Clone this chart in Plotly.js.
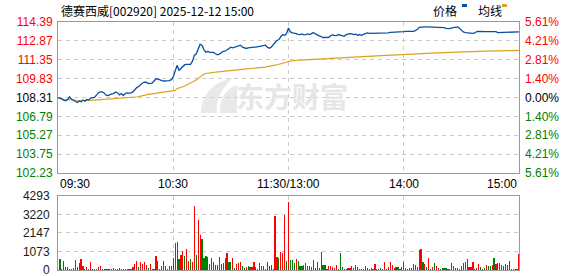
<!DOCTYPE html>
<html><head><meta charset="utf-8">
<script src="https://cdn.plot.ly/plotly-3.0.1.min.js"></script>
<style>html,body{margin:0;padding:0;background:#fff}#c{width:578px;height:276px}</style>
</head><body><div id="c"></div>
<script>
const titleText = '德赛西威[002920] 2025-12-12 15:00';
const prevClose = 108.31;
const priceTicks = [102.23, 103.75, 105.27, 106.79, 108.31, 109.83, 111.35, 112.87, 114.39];
const pctLabels = ['5.61%', '4.21%', '2.81%', '1.40%', '0.00%', '1.40%', '2.81%', '4.21%', '5.61%'];
const volTicks = [0, 1073, 2147, 3220, 4293];
const timeTickPos = [0, 60, 120, 180, 240];
const timeTickLabels = ['09:30', '10:30', '11:30/13:00', '14:00', '15:00'];
const legendNames = ['价格', '均线'];

const price = [
108.31,108.28,108.20,108.10,108.04,108.15,108.36,108.18,108.10,107.96,
107.91,108.02,107.96,108.10,108.02,108.15,108.10,108.26,108.31,108.31,
108.50,108.68,108.76,108.76,108.68,108.50,108.47,108.55,108.60,108.63,
108.76,108.68,108.52,108.63,108.47,108.63,108.68,108.66,108.68,108.76,
108.95,109.11,109.19,109.38,109.48,109.54,109.54,109.43,109.43,109.46,
109.64,109.80,109.80,109.70,109.67,109.64,109.64,109.64,109.67,109.75,
109.96,110.44,110.90,110.50,110.63,110.76,110.95,110.98,110.98,110.98,
111.24,111.70,111.83,112.23,112.60,112.50,112.15,111.96,112.02,111.94,
111.91,111.94,111.83,111.75,111.80,111.91,112.02,112.04,112.15,112.26,
112.36,112.31,112.36,112.47,112.52,112.52,112.36,112.31,112.26,112.31,
112.34,112.31,112.36,112.36,112.39,112.42,112.44,112.50,112.52,112.36,
112.28,112.36,112.60,112.74,112.90,112.98,113.22,113.38,113.30,113.48,
113.91,113.59,113.51,113.51,113.46,113.40,113.38,113.43,113.35,113.38,
113.43,113.38,113.46,113.54,113.43,113.32,113.27,113.22,113.14,113.14,
113.14,113.16,113.30,113.35,113.32,113.30,113.38,113.32,113.27,113.24,
113.38,113.43,113.46,113.43,113.38,113.40,113.32,113.38,113.30,113.40,
113.48,113.51,113.48,113.48,113.48,113.48,113.48,113.48,113.48,113.48,
113.48,113.48,113.51,113.56,113.56,113.56,113.56,113.56,113.56,113.56,
113.62,113.64,113.64,113.64,113.59,113.64,113.70,113.78,113.96,113.99,
113.99,113.99,113.99,113.99,113.99,113.94,113.96,113.99,113.99,113.99,
113.99,113.94,113.88,113.86,113.86,113.91,113.94,113.91,113.99,113.88,
113.75,113.59,113.54,113.51,113.51,113.51,113.48,113.51,113.62,113.64,
113.62,113.62,113.62,113.62,113.62,113.62,113.62,113.56,113.62,113.54,
113.54,113.54,113.54,113.54,113.54,113.54,113.54,113.54,113.54,113.59,
113.59];

const avgPrice = [
108.31,108.24,108.20,108.17,108.15,108.13,108.12,108.11,108.10,108.10,
108.09,108.08,108.08,108.07,108.07,108.07,108.07,108.08,108.09,108.10,
108.11,108.12,108.13,108.14,108.15,108.15,108.16,108.17,108.18,108.20,
108.20,108.21,108.22,108.23,108.24,108.25,108.26,108.26,108.27,108.28,
108.31,108.34,108.37,108.42,108.47,108.50,108.52,108.56,108.58,108.60,
108.62,108.63,108.66,108.68,108.70,108.72,108.74,108.76,108.78,108.80,
108.83,108.88,109.02,109.06,109.12,109.18,109.24,109.32,109.40,109.45,
109.50,109.62,109.72,109.85,109.98,110.12,110.20,110.24,110.28,110.32,
110.33,110.34,110.35,110.37,110.39,110.40,110.42,110.43,110.45,110.46,
110.48,110.50,110.52,110.53,110.55,110.57,110.58,110.60,110.61,110.62,
110.64,110.65,110.66,110.67,110.68,110.70,110.72,110.74,110.76,110.79,
110.81,110.84,110.88,110.92,110.95,110.98,111.02,111.06,111.10,111.15,
111.22,111.25,111.27,111.29,111.30,111.31,111.32,111.33,111.33,111.34,
111.35,111.35,111.36,111.37,111.38,111.39,111.40,111.41,111.42,111.43,
111.44,111.45,111.46,111.47,111.48,111.49,111.50,111.51,111.52,111.53,
111.53,111.54,111.55,111.56,111.57,111.58,111.59,111.60,111.61,111.62,
111.63,111.63,111.64,111.64,111.65,111.65,111.66,111.67,111.67,111.68,
111.70,111.70,111.71,111.72,111.72,111.73,111.74,111.74,111.75,111.76,
111.76,111.78,111.79,111.80,111.80,111.81,111.82,111.82,111.84,111.85,
111.86,111.86,111.87,111.88,111.88,111.89,111.89,111.91,111.91,111.92,
111.93,111.93,111.94,111.94,111.95,111.95,111.96,111.96,111.97,111.97,
111.98,111.99,111.99,112.00,112.00,112.01,112.01,112.02,112.02,112.03,
112.03,112.03,112.04,112.04,112.04,112.05,112.05,112.06,112.06,112.07,
112.07,112.07,112.08,112.08,112.08,112.09,112.09,112.09,112.10,112.10,
112.10];

// volume for minutes 1..240
const volume = [
638,58,522,174,174,77,58,97,580,174,
406,638,232,39,174,58,464,58,39,58,
155,213,77,58,58,58,39,58,97,39,
58,97,39,58,58,58,77,77,174,329,
522,174,464,348,464,271,116,348,58,77,
812,522,77,232,522,232,58,232,232,696,
1547,1625,638,870,1083,812,1199,522,638,464,
3713,870,2901,2031,1799,696,812,754,348,696,
464,290,271,754,348,406,696,986,464,464,
696,116,348,406,464,232,116,174,232,174,
174,464,174,58,406,232,232,58,464,232,
290,58,3133,754,696,1044,986,3191,522,3945,
580,580,406,638,522,232,232,290,406,232,
232,174,580,116,464,116,1044,290,290,58,
232,232,174,116,290,58,986,174,58,58,
116,116,232,116,290,174,58,58,58,232,
116,58,116,58,348,58,58,116,58,464,
58,174,464,290,116,174,174,58,174,464,
116,58,116,116,348,290,174,1160,1218,464,
348,174,696,58,174,406,232,116,58,116,
116,116,58,58,406,232,116,116,58,232,
406,464,638,174,174,464,58,116,348,174,
58,116,290,232,232,290,696,348,406,406,
290,232,348,290,522,58,60,80,70,928];
// 1 = up (red), -1 = down (green)
const volDir = [
-1,1,-1,-1,-1,1,-1,-1,-1,1,
-1,1,1,-1,1,-1,1,-1,1,-1,
1,1,-1,1,-1,1,1,1,1,-1,
1,-1,1,-1,1,1,1,-1,1,1,
1,-1,1,1,1,1,-1,1,-1,1,
1,-1,1,1,-1,1,-1,1,1,1,
1,1,-1,1,1,-1,1,1,-1,1,
1,-1,1,1,-1,-1,-1,1,-1,1,
1,-1,-1,1,1,1,1,1,-1,-1,
1,-1,1,1,1,-1,-1,1,-1,1,
1,1,-1,1,1,1,1,1,-1,-1,
-1,1,1,1,-1,1,1,1,-1,1,
-1,-1,-1,1,-1,-1,-1,1,1,-1,
1,1,1,1,-1,-1,-1,-1,-1,-1,
1,1,1,1,1,-1,-1,-1,-1,-1,
1,1,1,-1,-1,1,-1,-1,-1,1,
1,-1,1,1,1,-1,-1,-1,-1,1,
-1,1,1,1,1,-1,-1,-1,1,1,
-1,-1,-1,-1,1,1,1,1,1,-1,
1,-1,1,-1,1,-1,1,1,-1,-1,
-1,-1,-1,-1,1,1,-1,-1,-1,-1,
-1,-1,-1,1,1,1,-1,1,1,-1,
-1,-1,1,-1,-1,1,-1,1,-1,1,
-1,-1,1,-1,1,1,1,-1,-1,1];

// ---------- styling ----------
const RED = '#ff0000', GREEN = '#008000', BLACK = '#000000';
const BLUE = '#0b4fa3', ORANGE = '#dca21e';
const FONT = 'Arial, "Liberation Sans", "Noto Sans CJK SC", sans-serif';
const CJK = '"Noto Sans CJK SC", Arial, sans-serif';
const W = 578, H = 276, L = 58, R = 59, T = 22, B = 6;
const priceTop = 22, priceBot = 173, volTop = 196, volBot = 270;
const plotH = H - T - B;
const dPrice = [(H - B - priceBot) / plotH, 1];
const dVol = [0, (H - B - volTop) / plotH];

const minutes = price.map((_, i) => i);
const volMinutes = volume.map((_, i) => i + 1);

function colorFor(v) { return v > prevClose + 1e-9 ? RED : (v < prevClose - 1e-9 ? GREEN : BLACK); }
const leftText = priceTicks.map(v => `<span style="color:${colorFor(v)}">${v.toFixed(2)}</span>`);
const rightText = priceTicks.map((v, i) => `<span style="color:${colorFor(v)}">${pctLabels[i]}</span>`);

const traces = [
  {x: minutes, y: avgPrice, type: 'scatter', mode: 'lines', line: {color: ORANGE, width: 1.2}, xaxis: 'x', yaxis: 'y', hoverinfo: 'skip'},
  {x: minutes, y: price, type: 'scatter', mode: 'lines', line: {color: BLUE, width: 1.3}, xaxis: 'x', yaxis: 'y', hoverinfo: 'skip'},
  {x: minutes, y: price, type: 'scatter', mode: 'lines', line: {color: 'rgba(0,0,0,0)', width: 0}, xaxis: 'x', yaxis: 'y2', hoverinfo: 'skip'},
  {x: volMinutes, y: volume, type: 'bar', width: 0.62, marker: {color: volDir.map(d => d > 0 ? RED : GREEN), line: {width: 0}}, xaxis: 'x2', yaxis: 'y3', hoverinfo: 'skip'}
];

const gridStyle = {showgrid: true, gridcolor: '#cccccc', griddash: '4px,4px', gridwidth: 1};
const frame = {showline: true, mirror: true, linecolor: '#999999', linewidth: 1, zeroline: false, ticks: ''};

const px = x => (x - L) / (W - L - R);
const py = y => (H - B - y) / plotH;

const annotations = [
  ...timeTickPos.map((t, i) => ({
    x: t, xref: 'x', y: 0, yref: 'y domain', yanchor: 'top', yshift: -2,
    xanchor: i === 0 ? 'left' : (i === timeTickPos.length - 1 ? 'right' : 'center'),
    text: timeTickLabels[i], showarrow: false, font: {size: 12, color: '#000', family: FONT}
  })),
  {x: px(59), xref: 'paper', y: py(10), yref: 'paper', xanchor: 'left', yanchor: 'middle', text: titleText, showarrow: false, font: {size: 12, color: '#000', family: CJK}},
  {x: px(431), xref: 'paper', y: py(10), yref: 'paper', xanchor: 'left', yanchor: 'middle', text: legendNames[0], showarrow: false, font: {size: 12, color: '#000', family: CJK}},
  {x: px(476), xref: 'paper', y: py(10), yref: 'paper', xanchor: 'left', yanchor: 'middle', text: legendNames[1], showarrow: false, font: {size: 12, color: '#000', family: CJK}},
  {x: px(292), xref: 'paper', y: py(96), yref: 'paper', xanchor: 'center', yanchor: 'middle', text: '东方财富', showarrow: false, font: {size: 28, color: '#e6e6e6', family: CJK, weight: 'bold'}}
];

const shapes = [
  {type: 'rect', xref: 'paper', yref: 'paper', x0: px(462), x1: px(467), y0: py(4), y1: py(7), fillcolor: BLUE, line: {width: 0}},
  {type: 'rect', xref: 'paper', yref: 'paper', x0: px(502), x1: px(507), y0: py(4), y1: py(7), fillcolor: ORANGE, line: {width: 0}},
  // watermark logo
  {type: 'path', xref: 'paper', yref: 'paper', layer: 'below',
   path: `M ${px(201)} ${py(113)} C ${px(201)} ${py(95)}, ${px(214)} ${py(81)}, ${px(233)} ${py(78)} C ${px(222)} ${py(88)}, ${px(215)} ${py(100)}, ${px(217)} ${py(113)} Z`,
   fillcolor: '#e9e9e9', line: {width: 0}},
  {type: 'path', xref: 'paper', yref: 'paper', layer: 'below',
   path: `M ${px(220)} ${py(113)} C ${px(219)} ${py(100)}, ${px(225)} ${py(89)}, ${px(237)} ${py(85)} L ${px(237)} ${py(113)} Z`,
   fillcolor: '#e9e9e9', line: {width: 0}}
];

const layout = {
  width: W, height: H,
  margin: {l: L, r: R, t: T, b: B, pad: 0},
  paper_bgcolor: '#ffffff', plot_bgcolor: '#ffffff',
  showlegend: false,
  font: {family: FONT, size: 12, color: '#000'},
  xaxis: Object.assign({domain: [0, 1], range: [0, 240], anchor: 'y', tickvals: timeTickPos, showticklabels: false}, gridStyle, frame),
  yaxis: Object.assign({domain: dPrice, range: [priceTicks[0], priceTicks[priceTicks.length - 1]], anchor: 'x', tickvals: priceTicks, ticktext: leftText, tickfont: {size: 12, family: FONT}, ticklabelstandoff: 2, ticklabeloverflow: 'allow'}, gridStyle, frame),
  yaxis2: {overlaying: 'y', side: 'right', anchor: 'x', range: [priceTicks[0], priceTicks[priceTicks.length - 1]], tickvals: priceTicks, ticktext: rightText, tickfont: {size: 12, family: FONT}, showgrid: false, zeroline: false, showline: false, ticks: '', ticklabelstandoff: 5, ticklabeloverflow: 'allow'},
  xaxis2: Object.assign({domain: [0, 1], range: [0, 240], anchor: 'y3', tickvals: timeTickPos, showticklabels: false}, gridStyle, frame),
  yaxis3: Object.assign({domain: dVol, range: [0, volTicks[volTicks.length - 1]], anchor: 'x2', tickvals: volTicks, ticktext: volTicks.map(String), tickfont: {size: 12, family: FONT, color: '#1a1a1a'}, ticklabelstandoff: 5, ticklabeloverflow: 'allow'}, gridStyle, frame),
  annotations: annotations,
  shapes: shapes,
  bargap: 0
};

Plotly.newPlot('c', traces, layout, {staticPlot: true, displayModeBar: false});
</script></body></html>
